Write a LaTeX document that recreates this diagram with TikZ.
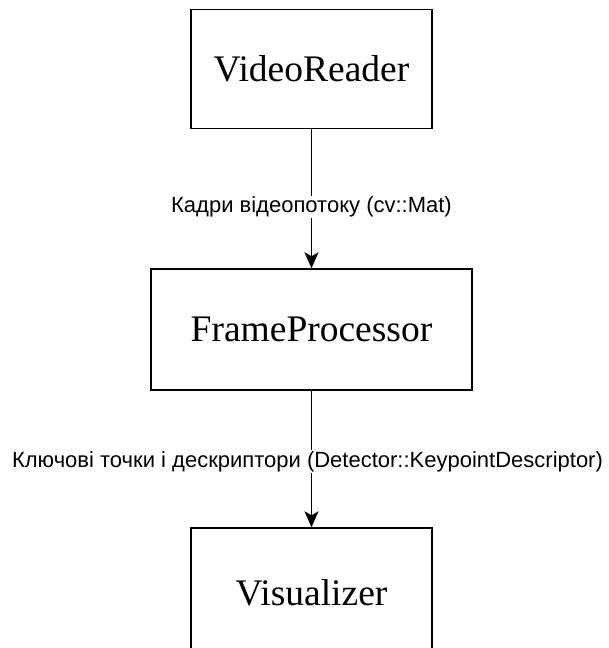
\documentclass[tikz,border=0pt]{standalone}
\usepackage{fontspec}
\setmainfont{Liberation Serif}
\newfontfamily\labelfont{Liberation Sans}
\usetikzlibrary{arrows.meta}
\begin{document}
\begin{tikzpicture}[x=1pt,y=-1pt,
  block/.style={draw=black, line width=1.4pt, fill=white, inner sep=0pt,
    font=\fontsize{37.5}{44}\selectfont},
  flow/.style={draw=black, line width=1.4pt,
    -{Stealth[length=16pt, width=14pt, inset=4pt]}},
  flowlabel/.style={fill=white, inner sep=1pt,
    font=\labelfont\fontsize{22}{26}\selectfont}]
  \useasboundingbox (0,0) rectangle (608,648);
  \node[block, minimum width=241pt, minimum height=119pt] (reader) at (311.5,69) {VideoReader};
  \node[block, minimum width=321pt, minimum height=121pt] (proc) at (311.5,329.5) {FrameProcessor};
  \node[block, minimum width=241pt, minimum height=130pt] (vis) at (311.5,593) {Visualizer};
  \draw[flow] (reader.south) -- node[flowlabel, pos=0.56] {Кадри відеопотоку (cv::Mat)} (proc.north);
  \draw[flow] (proc.south) -- node[flowlabel, pos=0.52, xshift=-4pt] {Ключові точки і дескриптори (Detector::KeypointDescriptor)} (vis.north);
\end{tikzpicture}
\end{document}
